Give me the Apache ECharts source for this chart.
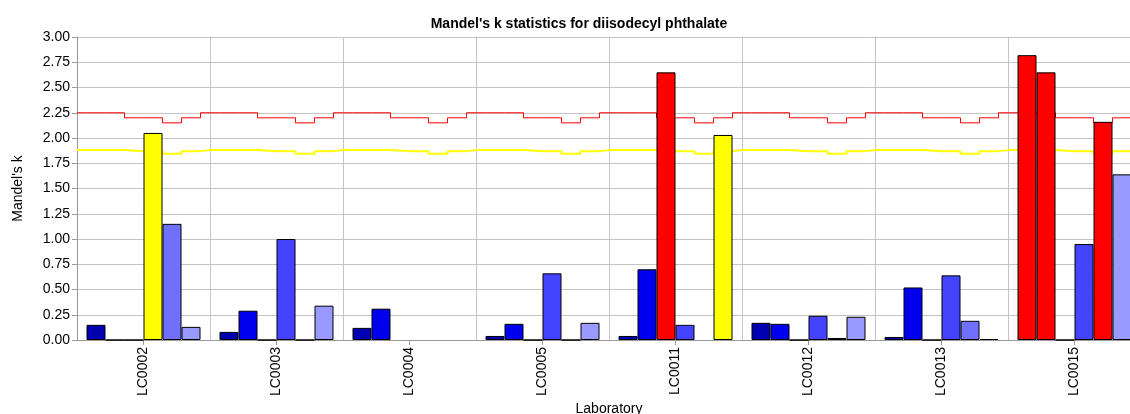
<!DOCTYPE html>
<html>
<head>
<meta charset="utf-8">
<script src="https://cdn.jsdelivr.net/npm/echarts@6/dist/echarts.min.js"></script>
<style>
html,body{margin:0;padding:0;background:#fff;overflow:hidden;}
#chart{width:1130px;height:414px;}
</style>
</head>
<body>
<div id="chart"></div>
<script>
// ---- data ----
const categories = ['LC0002','LC0003','LC0004','LC0005','LC0011','LC0012','LC0013','LC0015'];
const level1 = [0.15, 0.08, 0.12, 0.04, 0.04, 0.17, 0.03, 2.82];
const level2 = [0.00, 0.29, 0.31, 0.16, 0.70, 0.16, 0.52, 2.65];
const level3 = [0.00, 0.00, null, 0.00, 2.65, 0.00, 0.00, 0.00];
const level4 = [2.05, 1.00, null, 0.66, 0.15, 0.24, 0.64, 0.95];
const level5 = [1.15, 0.00, null, 0.00, null, 0.02, 0.19, 2.16];
const level6 = [0.13, 0.34, null, 0.17, 2.03, 0.23, 0.01, 1.64];
const redLimit = [2.25, 2.25, 2.20, 2.20, 2.15, 2.20];     // 1% critical k per level
const yellowLimit = [1.88, 1.88, 1.87, 1.87, 1.845, 1.87]; // 5% critical k per level
const yTicks = [0, 0.25, 0.5, 0.75, 1, 1.25, 1.5, 1.75, 2, 2.25, 2.5, 2.75, 3];

// ---- styling ----
const levels = [level1, level2, level3, level4, level5, level6];
const baseColors = ['#0000B0', '#0000EE', '#2222FF', '#4444FF', '#7070FF', '#9999FF'];
const nLev = levels.length;
const unitsPerCat = nLev + 1; // 6 bar slots + one slot of gap (half each side)
const FONT = 'Liberation Sans, Arial, sans-serif';

const barSeries = levels.map((vals, k) => ({
  type: 'bar',
  name: 'Level ' + (k + 1),
  xAxisIndex: 0, yAxisIndex: 0,
  barGap: '0%',
  barCategoryGap: (100 / unitsPerCat) + '%',
  z: 3,
  data: vals.map(v => {
    if (v === null) return null;
    let c = baseColors[k];
    if (v > redLimit[k]) c = '#FF0000';
    else if (v > yellowLimit[k]) c = '#FFFF00';
    return { value: v, itemStyle: { color: c } };
  }),
  itemStyle: { borderColor: '#000', borderWidth: 1 },
  emphasis: { disabled: true }
}));

function stepData(lim) {
  const pts = [];
  for (let g = 0; g < categories.length; g++) {
    pts.push([g * unitsPerCat, lim[0]]);
    for (let k = 0; k < nLev; k++) pts.push([g * unitsPerCat + 0.5 + k, lim[k]]);
    pts.push([g * unitsPerCat + 0.5 + nLev, lim[0]]);
  }
  pts.push([categories.length * unitsPerCat, lim[0]]);
  return pts;
}

const lineSeries = [
  { type: 'line', name: 'k 1%', xAxisIndex: 1, yAxisIndex: 0, step: 'end', symbol: 'none', z: 2,
    lineStyle: { color: '#FF0000', width: 1 }, data: stepData(redLimit), silent: true },
  { type: 'line', name: 'k 5%', xAxisIndex: 1, yAxisIndex: 0, step: 'end', symbol: 'none', z: 2,
    lineStyle: { color: '#FFFF00', width: 2 }, data: stepData(yellowLimit), silent: true }
];

const chart = echarts.init(document.getElementById('chart'), null, { renderer: 'canvas' });
chart.setOption({
  animation: false,
  backgroundColor: '#fff',
  title: {
    text: "Mandel's k statistics for diisodecyl phthalate",
    left: 574, top: 12, textAlign: 'center',
    textStyle: { fontFamily: FONT, fontSize: 14, fontWeight: 'bold', color: '#000' }
  },
  grid: { left: 77, right: -11, top: 37, bottom: 74, containLabel: false, outerBoundsMode: 'none' },
  xAxis: [
    {
      type: 'category', data: categories,
      name: 'Laboratory', nameLocation: 'middle', nameGap: 62, nameMoveOverlap: false,
      nameTextStyle: { fontFamily: FONT, fontSize: 14, color: '#000' },
      axisLine: { lineStyle: { color: '#999', width: 1 } },
      axisTick: { show: true, alignWithLabel: true, length: 5, lineStyle: { color: '#999' } },
      axisLabel: { rotate: 90, margin: 7, fontFamily: FONT, fontSize: 14, color: '#000' },
      splitLine: { show: true, lineStyle: { color: '#C4C4C4', width: 1 } }
    },
    { type: 'value', min: 0, max: categories.length * unitsPerCat, show: false }
  ],
  yAxis: {
    type: 'value', min: 0, max: 3, interval: 0.25,
    name: "Mandel's k", nameLocation: 'middle', nameGap: 52, nameMoveOverlap: false,
    nameTextStyle: { fontFamily: FONT, fontSize: 14, color: '#000' },
    axisLine: { show: true, lineStyle: { color: '#999', width: 1 } },
    axisTick: { show: true, length: 5, lineStyle: { color: '#999' } },
    axisLabel: { margin: 7, fontFamily: FONT, fontSize: 14, color: '#000',
      formatter: v => (yTicks.indexOf(v) >= 0 ? v.toFixed(2) : '') },
    splitLine: { show: true, lineStyle: { color: '#C4C4C4', width: 1 } }
  },
  series: lineSeries.concat(barSeries)
});
</script>
</body>
</html>
